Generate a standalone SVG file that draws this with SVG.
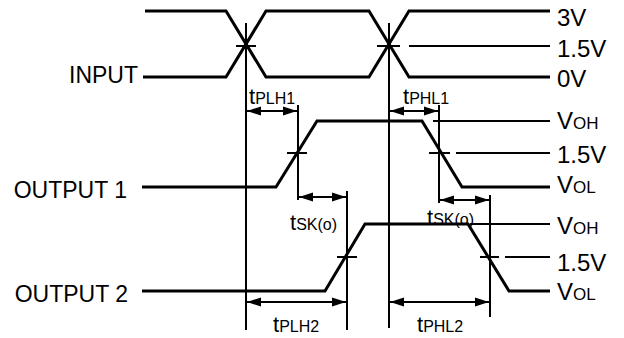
<svg xmlns="http://www.w3.org/2000/svg" width="624" height="338" viewBox="0 0 624 338">
<defs>
<style>
.wave{fill:none;stroke:#000;stroke-width:3;stroke-linejoin:miter}
.thin{fill:none;stroke:#000;stroke-width:2}
.ah{fill:#000;stroke:none}
.lbl{font-family:"Liberation Sans",Arial,sans-serif;font-size:23px;fill:#000}
.rl{font-family:"Liberation Sans",Arial,sans-serif;font-size:24px;fill:#000}
.sub{font-size:17px}
.tl{font-family:"Liberation Sans",Arial,sans-serif;font-size:22px;fill:#000}
.tsub{font-size:16px}
</style>
<path id="la" d="M0 0 L14 -4.5 L14 4.5 Z"/>
<path id="ra" d="M0 0 L-14 -4.5 L-14 4.5 Z"/>
</defs>
<rect width="624" height="338" fill="#fff"/>

<g id="input">
<path class="wave" d="M145 11 H226 L266 77 H369 L409 11 H550"/>
<path class="wave" d="M143 77 H226 L266 11 H369 L409 77 H550"/>
<path class="thin" d="M236 46 H256 M377 46 H400 M409 46 H550"/>
<text class="lbl" x="138" y="83" text-anchor="end">INPUT</text>
<text class="rl" x="557" y="26">3V</text>
<text class="rl" x="557" y="57">1.5V</text>
<text class="rl" x="557" y="87">0V</text>
</g>

<g id="output1">
<path class="wave" d="M142 187 H276 L317 121 H422 L462 187 H550"/>
<path class="thin" d="M433 121 H550 M287 153 H307 M429 153 H450 M456 153 H550"/>
<text class="lbl" x="127" y="198" text-anchor="end">OUTPUT 1</text>
<text class="rl" x="557" y="129">V<tspan class="sub">OH</tspan></text>
<text class="rl" x="557" y="163">1.5V</text>
<text class="rl" x="557" y="193">V<tspan class="sub">OL</tspan></text>
</g>

<g id="output2">
<path class="wave" d="M142 291 H325 L365 224 H468 L509 291 H550"/>
<path class="thin" d="M470 224 H550 M337 257 H357 M480 257 H499 M505 257 H550"/>
<text class="lbl" x="128" y="302" text-anchor="end">OUTPUT 2</text>
<text class="rl" x="557" y="234">V<tspan class="sub">OH</tspan></text>
<text class="rl" x="557" y="271">1.5V</text>
<text class="rl" x="557" y="300">V<tspan class="sub">OL</tspan></text>
</g>

<g id="connectors">
<path class="thin" d="M246 23 V330 M389 23 V328 M298 105 V200 M347 191 V330 M439 105 V203 M490 195 V317"/>
<path class="thin" d="M247 111 H297 M390 111 H438 M299 197 H346 M440 200 H489 M247 302 H346 M390 302 H489"/>
<g class="ah">
<use href="#la" x="247" y="111"/><use href="#ra" x="297" y="111"/>
<use href="#la" x="390" y="111"/><use href="#ra" x="438" y="111"/>
<use href="#la" x="299" y="197"/><use href="#ra" x="346" y="197"/>
<use href="#la" x="440" y="200"/><use href="#ra" x="489" y="200"/>
<use href="#la" x="247" y="302"/><use href="#ra" x="346" y="302"/>
<use href="#la" x="390" y="302"/><use href="#ra" x="489" y="302"/>
</g>
</g>

<g id="labels">
<text class="tl" x="249" y="104">t<tspan class="tsub">PLH1</tspan></text>
<text class="tl" x="403" y="104">t<tspan class="tsub">PHL1</tspan></text>
<text class="tl" x="290" y="230">t<tspan class="tsub">SK(o)</tspan></text>
<text class="tl" x="427" y="225">t<tspan class="tsub">SK(o)</tspan></text>
<text class="tl" x="273" y="332">t<tspan class="tsub">PLH2</tspan></text>
<text class="tl" x="417" y="332">t<tspan class="tsub">PHL2</tspan></text>
</g>
</svg>
